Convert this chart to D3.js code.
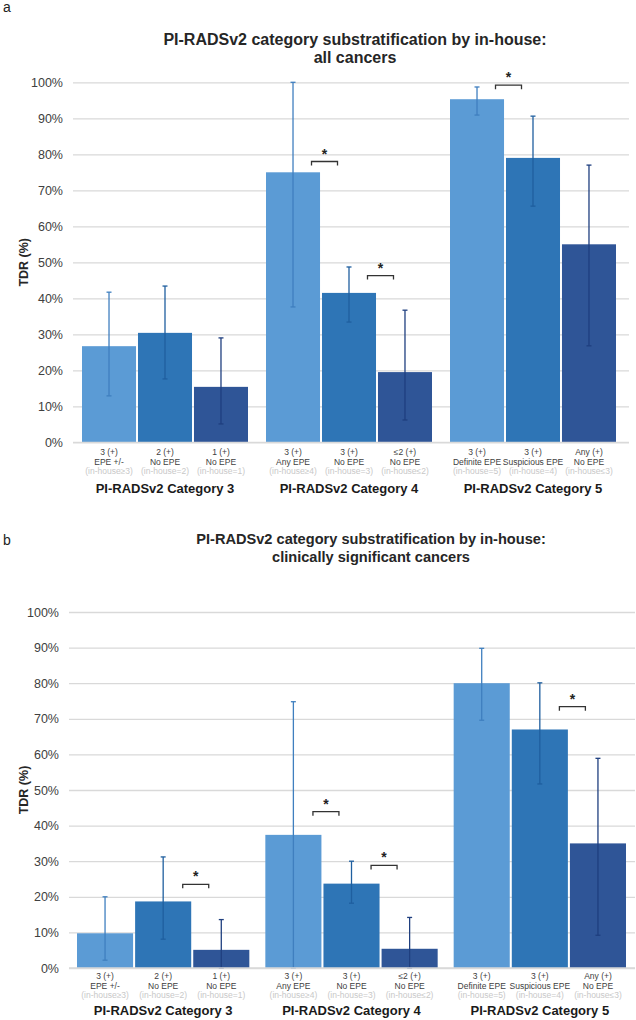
<!DOCTYPE html>
<html><head><meta charset="utf-8">
<script src="https://cdn.jsdelivr.net/npm/d3@7"></script>
<style>body{margin:0;background:#fff}svg{display:block;font-family:"Liberation Sans",Arial,sans-serif}</style>
</head><body><svg id="c" width="636" height="1020"></svg>
<script>
const groups = ["PI-RADSv2 Category 3","PI-RADSv2 Category 4","PI-RADSv2 Category 5"];
const barLine1 = ["3 (+)","2 (+)","1 (+)","3 (+)","3 (+)","≤2 (+)","3 (+)","3 (+)","Any (+)"];
const barLine2 = ["EPE +/-","No EPE","No EPE","Any EPE","No EPE","No EPE","Definite EPE","Suspicious EPE","No EPE"];
const barLine3 = ["(in-house≥3)","(in-house=2)","(in-house=1)","(in-house≥4)","(in-house=3)","(in-house≤2)","(in-house=5)","(in-house=4)","(in-house≤3)"];
const yTicks = [0,10,20,30,40,50,60,70,80,90,100];

// Panel a: all cancers (TDR %)
const valuesA = [26.7, 30.4, 15.4, 75.0, 41.5, 19.5, 95.3, 79.0, 55.0];
const upperA  = [41.7, 43.4, 29.0, 100.0, 48.7, 36.7, 98.7, 90.6, 77.0];
const lowerA  = [12.9, 17.6, 5.1, 37.6, 33.4, 6.2, 90.9, 65.6, 26.8];
const sigPairsA = [[3,4],[4,5],[6,7]];
const sigLevelsA = [78, 46.3, 99.2];

// Panel b: clinically significant cancers (TDR %)
const valuesB = [9.75, 18.7, 5.1, 37.4, 23.7, 5.4, 80.0, 67.0, 35.0];
const upperB  = [20.0, 31.2, 13.6, 74.8, 30.0, 14.2, 89.8, 80.1, 58.9];
const lowerB  = [2.2, 8.1, 0, 0, 18.2, 0, 69.6, 51.7, 9.2];
const sigPairsB = [[1,2],[3,4],[4,5],[7,8]];
const sigLevelsB = [23.5, 43.9, 28.8, 73.4];

const barColors = ["#5b9bd5","#2e75b6","#2f5597"];
const errColors = ["#3f7fbf","#1f5f9f","#1f3f7f"];

const svg = d3.select("#c");
svg.append("rect").attr("width",636).attr("height",1020).attr("fill","#fff");

function panel(o){
  const g = svg.append("g");
  const y = d3.scaleLinear().domain([0,100]).range([o.yb,o.yt]);
  const xg = d3.scaleBand().domain(groups).range([o.xl,o.xr]);
  const xb = d3.scaleBand().domain([0,1,2]).range([o.pad, xg.bandwidth()-o.pad]).paddingInner(0.035);
  const bx = i => xg(groups[Math.floor(i/3)]) + xb(i%3);
  const bw = xb.bandwidth();

  g.append("text").attr("x",3).attr("y",o.letterY).attr("font-size",14).attr("fill","#222").text(o.letter);
  o.title.forEach((t,k)=>g.append("text").attr("x",o.titleX).attr("y",o.titleY+k*o.titleLH)
    .attr("text-anchor","middle").attr("font-size",o.titleFS).attr("font-weight","bold").attr("fill","#262626").text(t));

  const ax = g.append("g").attr("transform",`translate(${o.xl},0)`)
    .call(d3.axisLeft(y).tickValues(yTicks).tickFormat(d=>d+"%").tickSize(-(o.gridR-o.xl)).tickPadding(10));
  ax.select(".domain").remove();
  ax.selectAll(".tick line").attr("stroke","#d9d9d9").attr("stroke-width",1.3);
  ax.selectAll(".tick text").attr("font-size",12.5).attr("fill","#404040").attr("font-family","Liberation Sans, Arial, sans-serif");

  g.append("text").attr("transform",`translate(${o.ylabX},${(o.yt+o.yb)/2}) rotate(-90)`)
    .attr("text-anchor","middle").attr("font-size",12.5).attr("font-weight","bold").attr("fill","#262626").text("TDR (%)");

  g.selectAll("rect.bar").data(o.values).join("rect").attr("class","bar")
    .attr("x",(d,i)=>bx(i)).attr("width",bw).attr("y",d=>y(d)).attr("height",d=>y(0)-y(d))
    .attr("fill",(d,i)=>barColors[i%3]);

  const eb = g.selectAll("g.err").data(o.values).join("g").attr("class","err")
    .attr("stroke",(d,i)=>errColors[i%3]).attr("stroke-width",1.3);
  eb.append("line").attr("x1",(d,i)=>bx(i)+bw/2).attr("x2",(d,i)=>bx(i)+bw/2)
    .attr("y1",(d,i)=>y(o.upper[i])).attr("y2",(d,i)=>y(o.lower[i]));
  eb.append("line").attr("x1",(d,i)=>bx(i)+bw/2-2.5).attr("x2",(d,i)=>bx(i)+bw/2+2.5)
    .attr("y1",(d,i)=>y(o.upper[i])).attr("y2",(d,i)=>y(o.upper[i]));
  eb.append("line").attr("x1",(d,i)=>bx(i)+bw/2-2.5).attr("x2",(d,i)=>bx(i)+bw/2+2.5)
    .attr("y1",(d,i)=>y(o.lower[i])).attr("y2",(d,i)=>y(o.lower[i]));

  g.append("line").attr("x1",o.xl).attr("x2",o.gridR).attr("y1",y(0)).attr("y2",y(0)).attr("stroke","#d9d9d9").attr("stroke-width",1.3);

  o.sigPairs.forEach((p,k)=>{
    const cx = (bx(p[0])+bw + bx(p[1]))/2 + 3.5;
    const yy = y(o.sigLevels[k]);
    g.append("path").attr("d",`M${cx-13},${yy+4}V${yy}H${cx+13}V${yy+4}`)
      .attr("fill","none").attr("stroke","#333").attr("stroke-width",1.3);
    g.append("text").attr("x",cx).attr("y",yy-3).attr("text-anchor","middle").attr("font-size",14)
      .attr("font-weight","bold").attr("fill","#222").text("*");
  });

  const lab = g.selectAll("g.xl").data(barLine1).join("g").attr("class","xl")
    .attr("transform",(d,i)=>`translate(${bx(i)+bw/2},${y(0)})`);
  lab.append("text").attr("y",o.labDy).attr("text-anchor","middle").attr("font-size",8.5).attr("fill","#404040").text(d=>d);
  lab.append("text").attr("y",o.labDy+9.5).attr("text-anchor","middle").attr("font-size",8.5).attr("fill","#404040").text((d,i)=>barLine2[i]);
  lab.append("text").attr("y",o.labDy+19).attr("text-anchor","middle").attr("font-size",8.5).attr("fill","#c8c8c8").text((d,i)=>barLine3[i]);

  g.selectAll("text.cat").data(groups).join("text").attr("class","cat")
    .attr("x",d=>xg(d)+xg.bandwidth()/2).attr("y",y(0)+o.catDy).attr("text-anchor","middle")
    .attr("font-size",13).attr("font-weight","bold").attr("fill","#1a1a1a").text(d=>d);
}

panel({letter:"a", letterY:12, title:["PI-RADSv2 category substratification by in-house:","all cancers"],
  titleX:355, titleY:45, titleLH:17.5, titleFS:16,
  yt:82.3, yb:442.3, xl:73, xr:625, gridR:629, pad:9, ylabX:28, catDy:51, labDy:13,
  values:valuesA, upper:upperA, lower:lowerA, sigPairs:sigPairsA, sigLevels:sigLevelsA});

panel({letter:"b", letterY:545, title:["PI-RADSv2 category substratification by in-house:","clinically significant cancers"],
  titleX:371, titleY:544, titleLH:17.5, titleFS:14.6,
  yt:612, yb:968, xl:69, xr:634, gridR:635, pad:8, ylabX:28, catDy:47, labDy:11,
  values:valuesB, upper:upperB, lower:lowerB, sigPairs:sigPairsB, sigLevels:sigLevelsB});
</script></body></html>
